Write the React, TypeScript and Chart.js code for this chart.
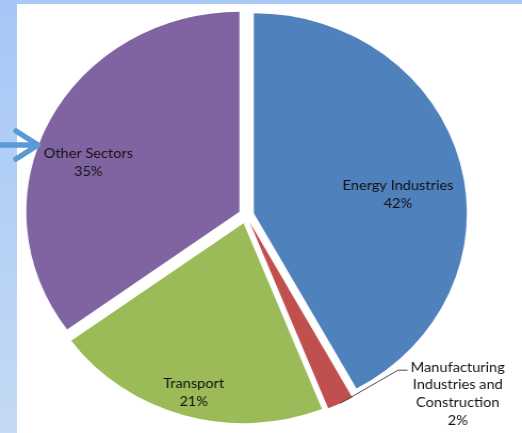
import React, { useEffect, useRef } from "react";
import { Chart, registerables } from "chart.js";

Chart.register(...registerables);

const categories = [
  "Energy Industries",
  "Manufacturing Industries and Construction",
  "Transport",
  "Other Sectors",
];
const shares = [42, 2, 21, 35];

const sliceColors = ["#4F81BD", "#C0504D", "#9BBB59", "#8064A2"];
const explodePx = [7.5, 8, 8.5, 7];

const labelLayout: any[] = [
  { dAngle: 6.4, rFrac: 0.72 },
  { outside: true },
  { dAngle: -0.7, rFrac: 0.92 },
  { dAngle: -7.6, rFrac: 0.785 },
];

const FONT = "13.7px Lato";
const LINE_H = 18;
const TEXT_COLOR = "#121212";

const explodePlugin = {
  id: "explodeSlices",
  beforeDatasetDraw(chart: any, args: any) {
    const ctx = chart.ctx;
    args.meta.data.forEach((arc: any, i: number) => {
      const mid = (arc.startAngle + arc.endAngle) / 2;
      const d = explodePx[i] || 0;
      ctx.save();
      ctx.translate(Math.cos(mid) * d, Math.sin(mid) * d);
      arc.draw(ctx, chart.chartArea);
      ctx.restore();
    });
    return false;
  },
};

function wrap(ctx: CanvasRenderingContext2D, text: string, maxW: number) {
  const words = text.split(" ");
  const lines: string[] = [];
  let cur = "";
  words.forEach((w) => {
    const t = cur ? cur + " " + w : w;
    if (cur && ctx.measureText(t).width > maxW) {
      lines.push(cur);
      cur = w;
    } else cur = t;
  });
  if (cur) lines.push(cur);
  return lines;
}

const labelPlugin = {
  id: "pieLabels",
  afterDatasetsDraw(chart: any) {
    const ctx = chart.ctx as CanvasRenderingContext2D;
    const meta = chart.getDatasetMeta(0);
    const data = chart.data.datasets[0].data as number[];
    const labels = chart.data.labels as string[];
    const total = data.reduce((a, b) => a + b, 0);
    ctx.save();
    ctx.font = FONT;
    ctx.fillStyle = TEXT_COLOR;
    ctx.textAlign = "center";
    ctx.textBaseline = "middle";
    meta.data.forEach((arc: any, i: number) => {
      const { x, y, startAngle, endAngle, outerRadius } = arc;
      const mid = (startAngle + endAngle) / 2;
      const pct = Math.round((data[i] / total) * 100) + "%";
      const L = labelLayout[i];
      if (L.outside) {
        const d = explodePx[i] || 0;
        const sx = x + Math.cos(mid) * (outerRadius + d);
        const sy = y + Math.sin(mid) * (outerRadius + d);
        const ex = sx + 54;
        const ey = sy - 33;
        const hx = ex + 9;
        ctx.strokeStyle = "#4a4a4a";
        ctx.lineWidth = 1;
        ctx.beginPath();
        ctx.moveTo(sx, sy);
        ctx.lineTo(ex, ey);
        ctx.lineTo(hx, ey);
        ctx.stroke();
        const lines = wrap(ctx, labels[i], 100).concat([pct]);
        const maxW = Math.max(...lines.map((l) => ctx.measureText(l).width));
        const cx = hx + 3 + maxW / 2;
        lines.forEach((l, k) => {
          ctx.fillText(l, cx, ey - 3 + k * 17.7);
        });
      } else {
        const a = mid + (L.dAngle * Math.PI) / 180;
        const r = outerRadius * L.rFrac;
        const px = x + Math.cos(a) * r;
        const py = y + Math.sin(a) * r;
        const lines = [labels[i], pct];
        lines.forEach((l, k) => {
          ctx.fillText(l, px, py + (k - (lines.length - 1) / 2) * LINE_H);
        });
      }
    });
    ctx.restore();
  },
};

export default function App() {
  const ref = useRef<HTMLCanvasElement>(null);
  useEffect(() => {
    document.body.style.margin = "0";
    const chart = new Chart(ref.current!, {
      type: "pie",
      data: {
        labels: categories,
        datasets: [
          {
            data: shares,
            backgroundColor: sliceColors,
            borderWidth: 0,
            radius: 200,
          } as any,
        ],
      },
      options: {
        responsive: false,
        animation: false,
        devicePixelRatio: 1,
        radius: 200,
        layout: { padding: { left: 0, right: 28, top: 0, bottom: 0 } },
        plugins: {
          legend: { display: false },
          tooltip: { enabled: false },
        },
        events: [],
      } as any,
      plugins: [explodePlugin, labelPlugin],
    });
    return () => chart.destroy();
  }, []);

  return (
    <div
      style={{
        position: "fixed",
        left: 0,
        top: 0,
        width: 522,
        height: 433,
        overflow: "hidden",
        background: "#ffffff",
      }}
    >
      <div
        style={{
          position: "absolute",
          left: 0,
          top: 0,
          width: 522,
          height: 4,
          background: "#a9c9f7",
        }}
      />
      <div
        style={{
          position: "absolute",
          left: 0,
          top: 0,
          width: 17,
          height: 433,
          background: "linear-gradient(to bottom, #a6c7f6, #c4daf5)",
        }}
      />
      <div
        style={{
          position: "absolute",
          left: 0,
          top: 0,
          width: 490,
          height: 430,
          transform: "scaleX(1.0653)",
          transformOrigin: "0 0",
        }}
      >
        <canvas ref={ref} width={490} height={430} />
      </div>
      <svg
        width={60}
        height={40}
        style={{ position: "absolute", left: 0, top: 126 }}
      >
        <line x1={0} y1={19} x2={36} y2={19} stroke="#5a9ad8" strokeWidth={5.5} strokeLinecap="round" />
        <polyline
          points="16,5 38,19 16,33"
          fill="none"
          stroke="#5a9ad8"
          strokeWidth={5.5}
          strokeLinecap="round"
          strokeLinejoin="round"
        />
      </svg>
    </div>
  );
}
